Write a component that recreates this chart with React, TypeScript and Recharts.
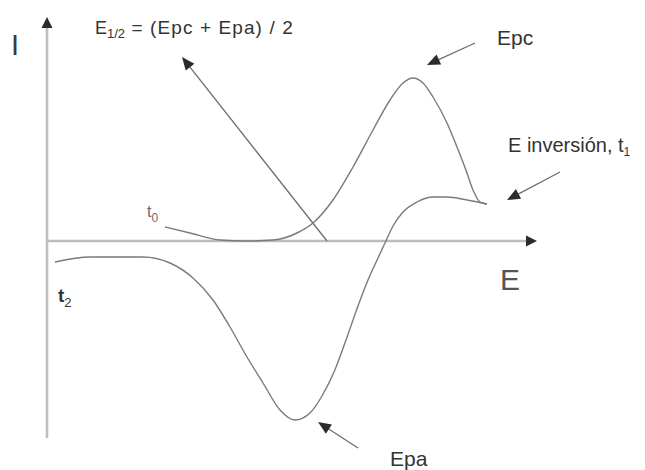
import { Line, LineChart, ReferenceLine, XAxis, YAxis } from "recharts";

// forward sweep (t0 -> t1), potential E and current I in arbitrary units
const forwardE = [23.6, 28.6, 34.6, 40, 45.2, 50, 53.2, 57.2, 61.2, 65.2, 68.6, 71.2, 73.2, 75.2, 77.2, 80, 82, 84, 85.2, 86.6, 88];
const forwardI = [2.8, 1.6, 0.2, 0, 0.2, 1.6, 3.6, 8.2, 14.8, 22.2, 28.2, 31.6, 32.6, 31.6, 28.8, 23.6, 18.8, 13.6, 10.2, 7.8, 7.4];

// reverse sweep (t1 -> t2), listed by increasing E
const reverseE = [1.6, 8.6, 19.2, 24.6, 29.2, 33.2, 36.6, 40, 43.2, 46.6, 49.6, 52.6, 55, 57.4, 59.8, 62.2, 64.2, 66.2, 67.6, 69.2, 71.2, 74, 77.2, 80, 84, 88];
const reverseI = [-4.2, -3.2, -3.2, -4.4, -7.4, -11.8, -17.2, -23.2, -28.4, -33.8, -35.8, -34.4, -31, -26.2, -19.8, -13, -7.8, -3.4, -0.4, 3, 5.8, 7.8, 8.8, 8.8, 8.2, 7.4];

// axes drawn as arrows: [fromE, fromI, toE, toI]
const axisArrows = [
  [0, 0, 98, 0],
  [0, -39.4, 0, 44.8],
];

// annotation pointers: [fromE, fromI, toE, toI]
const pointers = [
  [56, 0, 27, 36.8], // E1/2
  [85.6, 39.6, 76, 35.2], // Epc
  [102.6, 13.8, 92, 8.2], // E inversión
  [62.2, -41.4, 54.2, -36.2], // Epa
];

const forward = forwardE.map((e, k) => ({ e, i: forwardI[k] }));
const reverse = reverseE.map((e, k) => ({ e, i: reverseI[k] }));

const font = "'Liberation Sans', Arial, sans-serif";

function arrowShape(stroke: string, width: number, head: string, len: number, half: number) {
  return (p: any) => {
    const { x1, y1, x2, y2 } = p;
    const dx = x2 - x1;
    const dy = y2 - y1;
    const d = Math.hypot(dx, dy) || 1;
    const ux = dx / d;
    const uy = dy / d;
    const bx = x2 - ux * len;
    const by = y2 - uy * len;
    const pts = `${x2},${y2} ${bx - uy * half},${by + ux * half} ${bx + uy * half},${by - ux * half}`;
    return (
      <g>
        <line x1={x1} y1={y1} x2={bx + ux * 2} y2={by + uy * 2} stroke={stroke} strokeWidth={width} />
        <polygon points={pts} fill={head} />
      </g>
    );
  };
}

const axisShape = arrowShape("#bdbdbd", 2.6, "#2b2b2b", 11, 5.5);
const pointerShape = arrowShape("#6e6e6e", 1.3, "#2b2b2b", 13, 5.5);

export default function App() {
  return (
    <div style={{ position: "absolute", left: 0, top: 0, width: 645, height: 470, background: "#fff" }}>
      <LineChart width={645} height={470} margin={{ top: 6, right: 8, bottom: 9, left: 47 }}>
        <XAxis type="number" dataKey="e" domain={[0, 118]} allowDataOverflow hide />
        <YAxis type="number" dataKey="i" domain={[-44, 47]} allowDataOverflow hide />
        {axisArrows.map(([a, b, c, d], k) => (
          <ReferenceLine
            key={`ax${k}`}
            ifOverflow="visible"
            segment={[{ x: a, y: b }, { x: c, y: d }]}
            shape={axisShape}
          />
        ))}
        {pointers.map(([a, b, c, d], k) => (
          <ReferenceLine
            key={`pt${k}`}
            ifOverflow="visible"
            segment={[{ x: a, y: b }, { x: c, y: d }]}
            shape={pointerShape}
          />
        ))}
        <Line data={forward} dataKey="i" type="monotone" stroke="#7a7a7a" strokeWidth={1.4} dot={false} activeDot={false} isAnimationActive={false} />
        <Line data={reverse} dataKey="i" type="monotone" stroke="#7a7a7a" strokeWidth={1.4} dot={false} activeDot={false} isAnimationActive={false} />
        <g fontFamily={font}>
          <text x={11} y={55} fontSize={29} fill="#3a3a3a">I</text>
          <text x={500} y={290} fontSize={30} fill="#555">E</text>
          <text x={95} y={34} fill="#333">
            <tspan fontSize={18}>E</tspan>
            <tspan fontSize={13} dy={4}>1/2</tspan>
            <tspan fontSize={19} dy={-4} letterSpacing={1.1}> = (Epc + Epa) / 2</tspan>
          </text>
          <text x={497} y={45} fontSize={21} fill="#333">Epc</text>
          <text x={508} y={152} fill="#333">
            <tspan fontSize={20}>E inversión, t</tspan>
            <tspan fontSize={12} dy={4}>1</tspan>
          </text>
          <text x={147} y={217} fill="#6a6a6a">
            <tspan fontSize={16}>t</tspan>
            <tspan fontSize={12} dy={5}>0</tspan>
          </text>
          <text x={58} y={302} fill="#333" fontWeight="bold">
            <tspan fontSize={19}>t</tspan>
            <tspan fontSize={13} dy={5} fontWeight="normal">2</tspan>
          </text>
          <text x={390} y={466} fontSize={21} fill="#333">Epa</text>
        </g>
      </LineChart>
    </div>
  );
}
